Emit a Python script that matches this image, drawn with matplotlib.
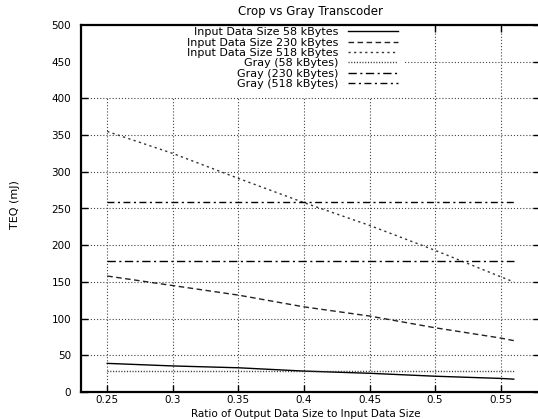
import matplotlib
matplotlib.use("Agg")
import matplotlib.pyplot as plt
from matplotlib.patches import Rectangle

# ---- data ----
ratio = [0.25, 0.30, 0.35, 0.40, 0.45, 0.50, 0.55, 0.56]
teq_58 = [39, 35.5, 33, 28.5, 25.5, 21.5, 18.5, 17.5]
teq_230 = [158, 145, 132, 116, 103.5, 87.5, 73.5, 70]
teq_518 = [355, 325, 291, 258, 227, 193, 157, 150]
gray_58 = 28
gray_230 = 178.5
gray_518 = 258.5
labels = ["Input Data Size 58 kBytes", "Input Data Size 230 kBytes",
          "Input Data Size 518 kBytes", "Gray (58 kBytes)",
          "Gray (230 kBytes)", "Gray (518 kBytes)"]
xticks = [0.25, 0.30, 0.35, 0.40, 0.45, 0.50, 0.55]
xticklabels = ["0.25", "0.3", "0.35", "0.4", "0.45", "0.5", "0.55"]
yticks = [0, 50, 100, 150, 200, 250, 300, 350, 400, 450, 500]

plt.rcParams['font.family'] = ['DejaVu Sans']
W, H = 538, 419
fig = plt.figure(figsize=(W / 100, H / 100), dpi=100)
ax = fig.add_axes([81 / W, (H - 392) / H, (540 - 81) / W, (392 - 25) / H])

ax.set_xlim(0.23, 0.58)
ax.set_ylim(0, 500)

lw = 1.0
ax.plot(ratio, teq_58, color='black', lw=lw, ls='-', label=labels[0], zorder=3)
ax.plot(ratio, teq_230, color='#222222', lw=lw, ls=(0, (4, 2.5)), label=labels[1], zorder=3)
ax.plot(ratio, teq_518, color='#333333', lw=lw, ls=(0, (1.6, 2.4)), label=labels[2], zorder=3)
xr = [ratio[0], ratio[-1]]
ax.plot(xr, [gray_58] * 2, color='#333333', lw=lw, ls=(0, (0.8, 1.2)), label=labels[3], zorder=3)
ax.plot(xr, [gray_230] * 2, color='black', lw=lw, ls=(0, (6, 2.5, 1.5, 2.5)), label=labels[4], zorder=3)
ax.plot(xr, [gray_518] * 2, color='black', lw=lw, ls=(0, (5, 2.5, 1.5, 2.5)), label=labels[5], zorder=3)

ax.set_xticks(xticks)
ax.set_xticklabels(xticklabels)
ax.set_yticks(yticks)
ax.tick_params(direction='in', length=5, width=1, top=True, right=True,
               labelsize=7.5, colors='black')
ax.tick_params(axis='x', pad=2.5)
ax.tick_params(axis='y', pad=7)
ax.set_axisbelow(True)
ax.grid(True, color='#444444', lw=0.8, ls=(0, (1, 1.8)))
for s in ax.spines.values():
    s.set_linewidth(1.6)

# white key area hiding the grid (as in the original)
key_right = (405 - 81) / (540 - 81)
key_bottom = (392 - 97) / (392 - 25)
ax.add_patch(Rectangle((0, key_bottom), key_right, 1 - key_bottom,
                       transform=ax.transAxes, facecolor='white',
                       edgecolor='none', zorder=1))

leg = ax.legend(loc='upper right', bbox_to_anchor=(400 / W, 1 - 25 / H),
                bbox_transform=fig.transFigure, markerfirst=False,
                frameon=False, fontsize=8, handlelength=4.5,
                handletextpad=0.85, labelspacing=0.03, borderpad=0.2,
                borderaxespad=0)
for t in leg.get_texts():
    t.set_ha('right')
leg.set_zorder(4)

fig.text(310 / W, 1 - 12 / H, "Crop vs Gray Transcoder", ha='center',
         va='center', fontsize=8.5)
fig.text(306 / W, 1 - 413.5 / H, "Ratio of Output Data Size to Input Data Size",
         ha='center', va='center', fontsize=7.5)
fig.text(15 / W, 1 - 205 / H, "TEQ (mJ)", ha='center', va='center',
         rotation=90, fontsize=8)

fig.savefig("out.png", dpi=100)
